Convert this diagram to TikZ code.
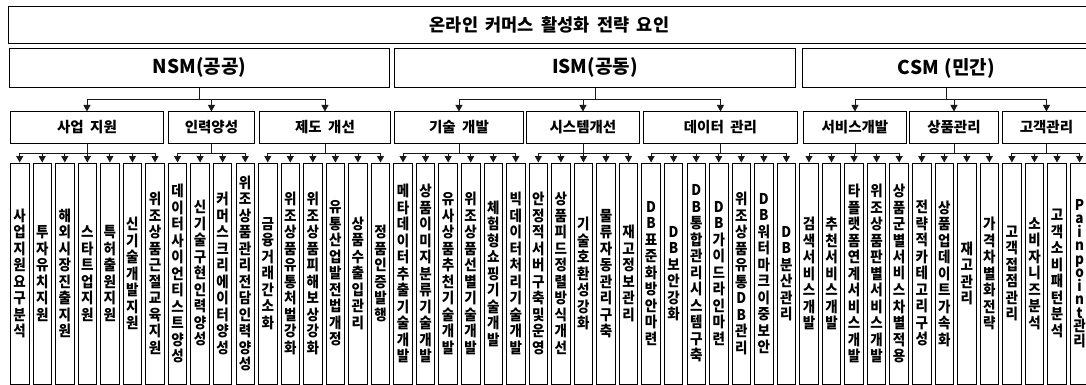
\documentclass[tikz,border=0pt]{standalone}
\usepackage{fontspec}
\setmainfont{Noto Sans CJK KR}
\usepackage{graphicx}
\usetikzlibrary{arrows.meta}
\def\vt#1{\vtfirst#1\relax}
\def\vtfirst#1{\vtc{#1}\vtrest}
\def\vtrest#1{\ifx#1\relax\else\\\vtc{#1}\expandafter\vtrest\fi}
\def\vtc#1{\scalebox{1}[1.1]{#1}}
\def\wsp#1{\spaceskip #1pt\relax}
\begin{document}
\begin{tikzpicture}[x=1pt,y=-1pt,
  box/.style={draw=black, line width=0.9pt, inner sep=0pt, anchor=north west},
  conn/.style={draw=black!90, line width=0.9pt},
  arr/.style={conn, -{Triangle[length=6.5pt,width=7pt]}},
  t0/.style={font={\bfseries\fontsize{17.5}{20}\selectfont\wsp{7.5}}},
  t1/.style={font={\bfseries\fontsize{19}{22}\selectfont\wsp{6}}},
  t2/.style={font={\bfseries\fontsize{14.5}{16}\selectfont\wsp{6.5}}},
  leaf/.style={box, minimum width=18.5pt, minimum height=221pt, align=center,
    font=\bfseries\fontsize{13.5}{16.5}\selectfont}]
\useasboundingbox (0,0) rectangle (1086,385);
\clip (0,0) rectangle (1086,385);
\node[box, t0, minimum width=1082pt, minimum height=37pt] (top) at (8,6) {온라인 커머스 활성화 전략 요인};
\node[box, t1, minimum width=380pt, minimum height=39pt] (nsm) at (9,48) {NSM(공공)};
\node[box, t1, minimum width=401pt, minimum height=39pt] (ism) at (394,48) {ISM(공동)};
\node[box, t1, minimum width=288pt, minimum height=39pt] (csm) at (802,48) {CSM (민간)};
\node[box, t2, minimum width=153pt, minimum height=31pt] (sa) at (10,111.5) {사업 지원};
\node[box, t2, minimum width=86pt, minimum height=31pt] (inr) at (168,111.5) {인력양성};
\node[box, t2, minimum width=131pt, minimum height=31pt] (je) at (259,111.5) {제도 개선};
\node[box, t2, minimum width=129pt, minimum height=31pt] (gi) at (394,111.5) {기술 개발};
\node[box, t2, minimum width=113pt, minimum height=31pt] (si) at (526,111.5) {시스템개선};
\node[box, t2, minimum width=154pt, minimum height=31pt] (de) at (643,111.5) {데이터 관리};
\node[box, t2, minimum width=103pt, minimum height=31pt] (se) at (803,111.5) {서비스개발};
\node[box, t2, minimum width=89pt, minimum height=31pt] (sp) at (909,111.5) {상품관리};
\node[box, t2, minimum width=88pt, minimum height=31pt] (go) at (1002,111.5) {고객관리};
\foreach \t [count=\i from 0] in {사업지원요구분석,투자유치지원,해외시장진출지원,스타트업지원,특허출원지원,신기술개발지원,위조상품근절교육지원,데이터사이언티스트양성,신기술구현인력양성,커머스크리에이터양성,위조상품관리전담인력양성,금융거래간소화,위조상품유통처벌강화,위조상품피해보상강화,유통산업발전법개정,상품수출입관리,정품인증발행,메타데이터추출기술개발,상품이미지분류기술개발,유사상품추천기술개발,위조상품선별기술개발,체험형쇼핑기술개발,빅데이터처리기술개발,안정적서버구축및운영,상품피드정렬방식개선,기술호환성강화,물류자동관리구축,재고정보관리,DB표준화방안마련,DB보안강화,DB통합관리시스템구축,DB가이드라인마련,위조상품유통DB관리,DB워터마크이중보안,DB분산관리,검색서비스개발,추천서비스개발,타플랫폼연계서비스개발,위조상품판별서비스개발,상품군별서비스차별적용,전략적카테고리구성,상품업데이트가속화,재고관리,가격차별화전략,고객접점관리,소비자니즈분석,고객소비패턴분석}
  \node[leaf] (l\i) at ({10+22.55*\i},162.5) {\expandafter\vt\expandafter{\t}};
\node[leaf, font=\bfseries\fontsize{13.5}{13.5}\selectfont] (l47) at ({10+22.55*47},162.5) {\vt{Painpoint관리}};
\foreach \c in {sa,inr,je} \draw[arr] (nsm.south) -- ++(0,12) -| (\c.north);
\foreach \c in {gi,si,de} \draw[arr] (ism.south) -- ++(0,12) -| (\c.north);
\foreach \c in {se,sp,go} \draw[arr] (csm.south) -- ++(0,12) -| (\c.north);
\foreach \p/\a/\b in {sa/0/6, inr/7/10, je/11/16, gi/17/22, si/23/27, de/28/34, se/35/39, sp/40/43, go/44/47}
  \foreach \k in {\a,...,\b} \draw[arr] (\p.south) -- ++(0,10.5) -| (l\k.north);
\end{tikzpicture}
\end{document}
